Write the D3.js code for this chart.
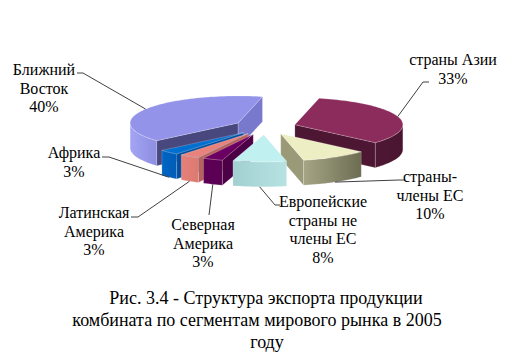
<!DOCTYPE html>
<html>
<head>
<meta charset="utf-8">
<script src="https://cdn.jsdelivr.net/npm/d3@7"></script>
<style>
  body { margin: 0; background: #fff; }
</style>
</head>
<body>
<div id="chart"></div>
<script>
// Data
var labels = ['страны Азии', 'страны-члены ЕС', 'Европейские страны не члены ЕС',
              'Северная Америка', 'Латинская Америка', 'Африка', 'Ближний Восток'];
var values = [33, 10, 8, 3, 3, 3, 40];
var labelLines = [['страны Азии'], ['страны-', 'члены ЕС'], ['Европейские', 'страны не', 'члены ЕС'],
                  ['Северная', 'Америка'], ['Латинская', 'Америка'], ['Африка'], ['Ближний', 'Восток']];
var captionLines = ['Рис. 3.4 - Структура экспорта продукции',
                    'комбината по сегментам мирового рынка в 2005',
                    'году'];

// Colours
var topColors = ['#8c2c5c', '#eeeec4', '#c0f0f0', '#6a0062', '#e8827a', '#0070d0', '#9393ea'];
var wallColors = [['#4e1834', '#4a1530'], ['#a6a686', '#6c6c52'], ['#a2d0d0', '#b6e2e2'],
                  ['#5c0056', '#5a0052'], ['#e58079', '#dc7a72'], ['#0066c6', '#005cb4'],
                  ['#a4a4f4', '#8e8ee2']];
var cutStart = ['#4d1632', '#8a8a6c', '#8fbcbc', '#4c0046', '#b8625c', '#004f9e', '#48487f'];
var cutEnd = ['#4d1632', '#9a9a78', '#8fbcbc', '#4c0046', '#b8625c', '#004f9e', '#7878cc'];

// Label layout: text centre / first baseline, leader elbow, leader tail
var labelPos = [[453, 65], [430, 182], [323, 207], [203, 230], [94, 218], [74, 158], [44, 75]];
var elbows = [[423, 82], [399, 180], [275, 205], [209, 215], [138, 217], [109, 157], [83, 73]];
var tails = [429, 405, 280, 209, 131, 102, 77];

// Pie geometry
var svgWidth = 529, svgHeight = 359;
var cx = 265, cy = 127;
var rx = 108, ry = 27, depth = 25;
var explode = 0.29;
var firstAngle = 13 * Math.PI / 180;
var serif = 'Liberation Serif, Times New Roman, serif';

var svg = d3.select('#chart')
    .append('svg')
    .attr('width', svgWidth)
    .attr('height', svgHeight)
    .attr('font-family', serif);

var defs = svg.append('defs');

var pie = d3.pie()
    .sort(null)
    .startAngle(firstAngle)
    .endAngle(firstAngle + 2 * Math.PI);

var sx = d3.scaleLinear().domain([-1, 1]).range([-rx, rx]);
var sy = d3.scaleLinear().domain([-1, 1]).range([-ry, ry]);

var arcs = pie(values).map(function(d, i) {
    var mid = (d.startAngle + d.endAngle) / 2;
    d.i = i;
    d.mid = mid;
    d.ax = cx + explode * sx(Math.sin(mid));
    d.ay = cy - explode * sy(Math.cos(mid));
    return d;
});

function pt(d, a, z) {
    return [d.ax + sx(Math.sin(a)), d.ay - sy(Math.cos(a)) + z];
}

function arcPts(d, a0, a1, z) {
    var n = Math.max(2, Math.ceil(Math.abs(a1 - a0) / 0.03));
    var pts = [];
    for (var k = 0; k <= n; k++) pts.push(pt(d, a0 + (a1 - a0) * k / n, z));
    return pts;
}

var line = d3.line();

// gradients for the outer walls
arcs.forEach(function(d) {
    var g = defs.append('linearGradient')
        .attr('id', 'wall' + d.i)
        .attr('x1', 0).attr('x2', 1).attr('y1', 0).attr('y2', 0);
    g.append('stop').attr('offset', '0%').attr('stop-color', wallColors[d.i][0]);
    g.append('stop').attr('offset', '100%').attr('stop-color', wallColors[d.i][1]);
});

// back to front
var order = arcs.slice().sort(function(a, b) {
    return (a.ay - 0.6 * ry * Math.cos(a.mid)) - (b.ay - 0.6 * ry * Math.cos(b.mid));
});

var sides = svg.append('g');
var tops = svg.append('g');
var edge = 'rgba(255,255,255,0.35)';

order.forEach(function(d) {
    var a0 = d.startAngle, a1 = d.endAngle;
    var apexTop = [d.ax, d.ay], apexBot = [d.ax, d.ay + depth];

    // cut faces
    if (Math.sin(a0) < 0) {
        sides.append('path')
            .attr('d', line([apexTop, pt(d, a0, 0), pt(d, a0, depth), apexBot]) + 'Z')
            .attr('fill', cutStart[d.i])
            .attr('stroke', edge).attr('stroke-width', 0.5);
    }
    if (Math.sin(a1) > 0) {
        sides.append('path')
            .attr('d', line([apexTop, pt(d, a1, 0), pt(d, a1, depth), apexBot]) + 'Z')
            .attr('fill', cutEnd[d.i])
            .attr('stroke', edge).attr('stroke-width', 0.5);
    }

    // outer wall (front half only)
    var b0 = Math.max(a0, Math.PI / 2), b1 = Math.min(a1, 3 * Math.PI / 2);
    if (b1 > b0) {
        var pts = arcPts(d, b0, b1, 0).concat(arcPts(d, b1, b0, depth));
        sides.append('path')
            .attr('d', line(pts) + 'Z')
            .attr('fill', 'url(#wall' + d.i + ')')
            .attr('stroke', edge).attr('stroke-width', 0.5);
    }

    // top face
    tops.append('path')
        .attr('d', line([apexTop].concat(arcPts(d, a0, a1, 0))) + 'Z')
        .attr('fill', topColors[d.i])
        .attr('stroke', edge).attr('stroke-width', 0.6);
});

// Labels and leader lines
var fmt = d3.format('.0%');
var total = d3.sum(values);
var lineH = 18.5;

arcs.forEach(function(d) {
    var i = d.i;
    var front = Math.cos(d.mid) < 0;
    var anchor = pt(d, d.mid, front ? depth : 0);
    svg.append('path')
        .attr('d', line([anchor, elbows[i], [tails[i], elbows[i][1]]]))
        .attr('fill', 'none')
        .attr('stroke', '#404040')
        .attr('stroke-width', 1);

    var t = svg.append('text')
        .attr('x', labelPos[i][0])
        .attr('y', labelPos[i][1])
        .attr('text-anchor', 'middle')
        .attr('fill', '#000')
        .attr('font-family', serif)
        .attr('font-size', 16);
    labelLines[i].concat([fmt(values[i] / total)]).forEach(function(s, k) {
        t.append('tspan')
            .attr('x', labelPos[i][0])
            .attr('dy', k === 0 ? 0 : lineH)
            .text(s);
    });
});

// Caption
svg.append('g')
    .selectAll('text')
    .data(captionLines)
    .enter()
    .append('text')
    .attr('x', function(d, k) { return [266, 257, 267][k]; })
    .attr('y', function(d, k) { return 304 + k * 22; })
    .attr('text-anchor', 'middle')
    .attr('fill', '#000')
    .attr('font-family', serif)
    .attr('font-size', 18)
    .text(function(d) { return d; });
</script>
</body>
</html>
